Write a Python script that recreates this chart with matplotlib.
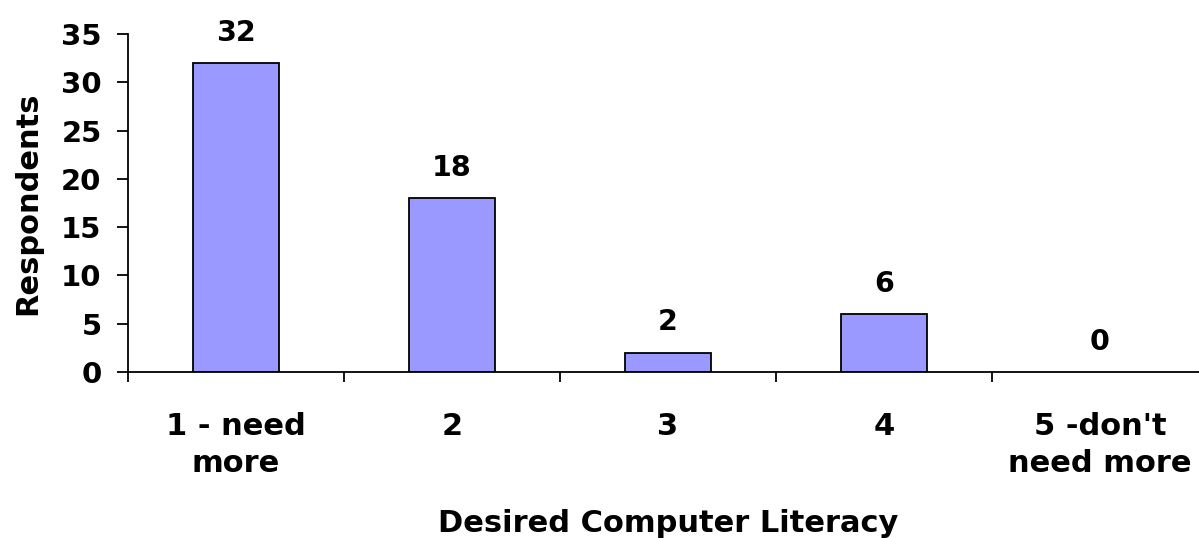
import matplotlib
matplotlib.use("Agg")
import matplotlib.pyplot as plt
import numpy as np

categories = ["1 - need\nmore", "2", "3", "4", "5 -don't\nneed more"]
respondents = [32, 18, 2, 6, 0]

plt.rcParams['font.family'] = ['DejaVu Sans']
plt.rcParams['font.weight'] = 'bold'

fig = plt.figure(figsize=(11.99, 5.38), dpi=100)
# axes runs a little past the right edge, like the original export
ax = fig.add_axes([128 / 1199, 166 / 538, 1080 / 1199, 338 / 538])

x = np.arange(len(categories))
bars = ax.bar(x, respondents, width=0.4, color='#9999ff',
              edgecolor='black', linewidth=1.3)
# an empty bar shouldn't thicken the axis line
for b, v in zip(bars, respondents):
    if v == 0:
        b.set_linewidth(0)

for xi, v in zip(x, respondents):
    ax.annotate(str(v), (xi, v), xytext=(0, 16), textcoords='offset points',
                ha='center', va='baseline', fontsize=20.5, fontweight='bold')

ax.set_xlim(-0.5, 4.5)
ax.set_ylim(0, 35)
ax.set_yticks(range(0, 36, 5))
ax.tick_params(axis='y', length=8, width=1.3, pad=11, labelsize=21)

ax.set_xticks(x)
ax.set_xticklabels(categories, fontsize=22, fontweight='bold', linespacing=1.32)
ax.set_xticks(np.arange(-0.5, 4.0, 1.0), minor=True)
ax.tick_params(axis='x', which='major', length=0, pad=29)
ax.tick_params(axis='x', which='minor', length=7, width=1.3)

for side in ['top', 'right']:
    ax.spines[side].set_visible(False)
for side in ['left', 'bottom']:
    ax.spines[side].set_linewidth(1.3)

ax.set_ylabel('Respondents', fontsize=22, fontweight='bold')
ax.yaxis.set_label_coords(-0.079, 0.5)
ax.set_xlabel('Desired Computer Literacy', fontsize=22, fontweight='bold')
ax.xaxis.set_label_coords(0.5, -0.405)

fig.savefig('out.png', dpi=100)
